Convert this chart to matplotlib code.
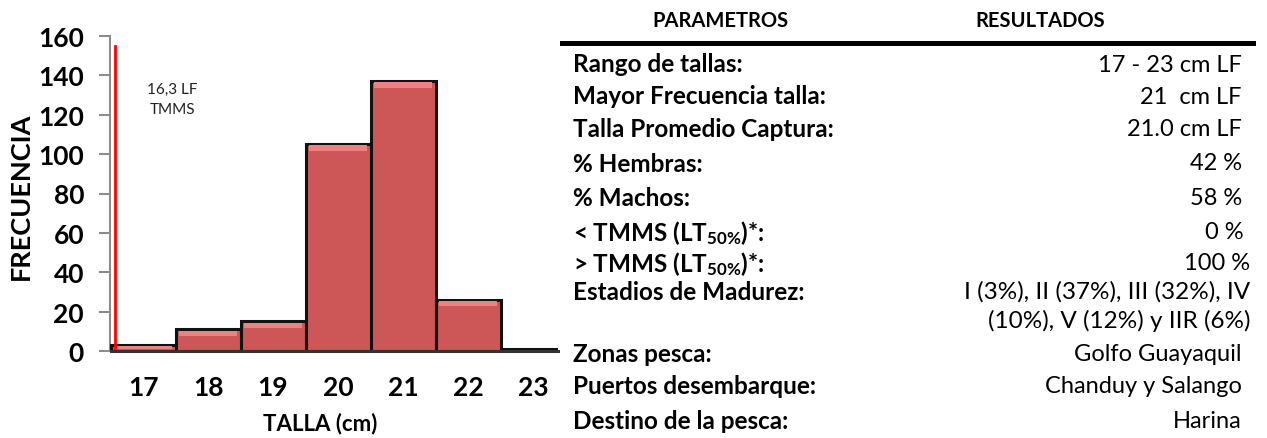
import matplotlib
matplotlib.use("Agg")
import matplotlib.pyplot as plt
import numpy as np

# ---------------- data ----------------
tallas = [17, 18, 19, 20, 21, 22, 23]
frecuencia = [3, 11, 15, 105, 137, 26, 1]
y_ticks = [0, 20, 40, 60, 80, 100, 120, 140, 160]
tmms_x = 16.57
tmms_top = 155
tmms_label = "16,3 LF\nTMMS"

param_labels = ["Rango de tallas:", "Mayor Frecuencia talla:", "Talla Promedio Captura:",
                "% Hembras:", "% Machos:", "< TMMS (LT$_{50\\%}$)*:", "> TMMS (LT$_{50\\%}$)*:",
                "Estadios de Madurez:", "Zonas pesca:", "Puertos desembarque:", "Destino de la pesca:"]
param_values = ["17 - 23 cm LF", "21  cm LF", "21.0 cm LF", "42 %", "58 %", "0 %", "100 %",
                "I (3%), II (37%), III (32%), IV\n(10%), V (12%) y IIR (6%)",
                "Golfo Guayaquil", "Chanduy y Salango", "Harina"]

FONT = ["Lato", "DejaVu Sans"]
plt.rcParams['font.family'] = FONT
plt.rcParams['mathtext.fontset'] = 'custom'
plt.rcParams['mathtext.rm'] = 'Lato:bold'
plt.rcParams['mathtext.it'] = 'Lato:bold'
plt.rcParams['mathtext.bf'] = 'Lato:bold'

W, H = 1267, 439
fig = plt.figure(figsize=(W / 100, H / 100), dpi=100)

def fx(px):
    return px / W

def fy(py):
    return 1 - py / H

ax_left, ax_right, ax_top, ax_bot = 110.5, 558, 37, 352
ax = fig.add_axes([fx(ax_left), fy(ax_bot), fx(ax_right - ax_left), (ax_bot - ax_top) / H])

bar_face = "#CD5757"
ax.bar(tallas, frecuencia, width=1.0, color=bar_face, edgecolor="#111111", linewidth=2.2, zorder=3)
# top bevel highlight
hl = [min(2.6, v * 0.45) for v in frecuencia]
ax.bar(tallas, hl, width=0.9, bottom=[v - h - 0.6 for v, h in zip(frecuencia, hl)],
       color="#EE8282", linewidth=0, zorder=4)

ax.plot([tmms_x, tmms_x], [0, tmms_top], color="#FF0000", lw=2, zorder=5)
ax.text(17.45, 128, tmms_label, ha="center", va="center", fontsize=11, color="#222222",
        linespacing=1.55, zorder=6)

ax.set_xlim(16.5, 16.5 + (ax_right - ax_left) / 65.0)
ax.set_ylim(0, 160)
ax.set_yticks(y_ticks)
ax.set_xticks(tallas)
ax.set_xticklabels([str(t) for t in tallas], fontsize=19, fontweight="bold")
ax.set_yticklabels([str(t) for t in y_ticks], fontsize=19, fontweight="bold")
for s in ["top", "right"]:
    ax.spines[s].set_visible(False)
ax.spines["left"].set_color("#8c8c8c")
ax.spines["left"].set_linewidth(1.5)
ax.spines["bottom"].set_color("#333333")
ax.spines["bottom"].set_linewidth(2.2)
ax.spines["bottom"].set_zorder(6)
ax.tick_params(axis="y", length=8, width=1.5, color="#8c8c8c", pad=11, direction="out")
ax.tick_params(axis="x", length=0, pad=17)

fig.text(fx(320), fy(424), "TALLA (cm)", ha="center", va="center", fontsize=16, fontweight="bold")
fig.text(fx(21), fy(196), "FRECUENCIA", ha="center", va="center", fontsize=19.5,
         fontweight="bold", rotation=90)

# ---------------- table ----------------
fig.text(fx(720), fy(21), "PARAMETROS", ha="center", va="center", fontsize=14.5, fontweight="bold")
fig.text(fx(1040), fy(21), "RESULTADOS", ha="center", va="center", fontsize=14.5, fontweight="bold")
fig.add_artist(plt.Line2D([fx(562), fx(1253)], [fy(43.5), fy(43.5)], color="black", lw=3.6))

row_y = [65, 97, 130, 164, 199, 233, 264, 292, 355, 387, 422]
val_x = [1242, 1242, 1242, 1242, 1242, 1244, 1250, 1250, 1242, 1242, 1242]
for lab, val, y, vx in zip(param_labels, param_values, row_y, val_x):
    fig.text(fx(573), fy(y), lab, ha="left", va="center", fontsize=17.5, fontweight="bold")
    if "\n" in val:
        l1, l2 = val.split("\n")
        fig.text(fx(vx), fy(y), l1, ha="right", va="center", fontsize=17.5)
        fig.text(fx(vx), fy(y + 29), l2, ha="right", va="center", fontsize=17.5)
    else:
        fig.text(fx(vx), fy(y), val, ha="right", va="center", fontsize=17)

fig.savefig("out.png", dpi=100, facecolor="white")
